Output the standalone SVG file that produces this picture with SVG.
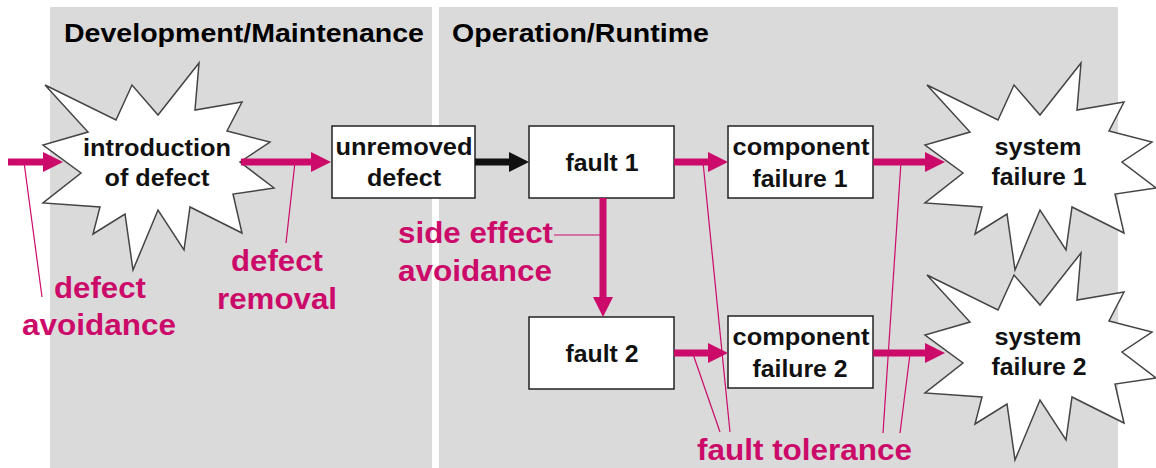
<svg xmlns="http://www.w3.org/2000/svg" xmlns:xlink="http://www.w3.org/1999/xlink" width="1156" height="468" viewBox="0 0 1156 468">
<style>
.panel{fill:#dadada}
.title{font-family:"Liberation Sans",Arial,sans-serif;font-weight:bold;font-size:26px;fill:#000}
.box{fill:#fff;stroke:#222;stroke-width:1.5}
.burst{fill:#fff;stroke:#444;stroke-width:1.5;stroke-linejoin:miter}
.nt{font-family:"Liberation Sans",Arial,sans-serif;font-weight:bold;font-size:23px;fill:#111;text-anchor:middle}
.ml{font-family:"Liberation Sans",Arial,sans-serif;font-weight:bold;font-size:30px;fill:#cc0a6a}
.mag{stroke:#cc0a6a;stroke-width:7;fill:none;marker-end:url(#hm)}
.blk{stroke:#111;stroke-width:7;fill:none;marker-end:url(#hb)}
.thin{stroke:#cc0a6a;stroke-width:1.2;fill:none}
</style>
<defs>
<marker id="hm" markerUnits="userSpaceOnUse" markerWidth="20" markerHeight="20" refX="2" refY="10" orient="auto"><path d="M0,0 L20,10 L0,20 z" fill="#cc0a6a"/></marker>
<marker id="hb" markerUnits="userSpaceOnUse" markerWidth="20" markerHeight="20" refX="2" refY="10" orient="auto"><path d="M0,0 L20,10 L0,20 z" fill="#111"/></marker>
<polygon id="burst" class="burst" points="45,85 116,120 132,85 158,115 199,63 195,110 242,102 227,131 270,142 240,162 274,188 233,194 242,233 190,207 184,250 158,210 133,270 125,214 93,234 100,207 43,203 81,173 43,145 88,132"/>
</defs>
<g id="panels">
<rect class="panel" x="50" y="7" width="382" height="461"/>
<rect class="panel" x="439" y="7" width="679" height="461"/>
<text class="title" x="64" y="42" textLength="360" lengthAdjust="spacingAndGlyphs">Development/Maintenance</text>
<text class="title" x="452" y="42" textLength="257" lengthAdjust="spacingAndGlyphs">Operation/Runtime</text>
</g>
<g id="intro">
<use xlink:href="#burst"/>
<text class="nt" x="157" y="156" textLength="148" lengthAdjust="spacingAndGlyphs">introduction</text>
<text class="nt" x="157" y="186" textLength="105" lengthAdjust="spacingAndGlyphs">of defect</text>
</g>
<g id="unremoved">
<rect class="box" x="332" y="126" width="143" height="72"/>
<text class="nt" x="404" y="155" textLength="137" lengthAdjust="spacingAndGlyphs">unremoved</text>
<text class="nt" x="404" y="186" textLength="74" lengthAdjust="spacingAndGlyphs">defect</text>
</g>
<g id="fault1">
<rect class="box" x="529" y="126" width="145" height="72"/>
<text class="nt" x="602" y="171" textLength="73" lengthAdjust="spacingAndGlyphs">fault 1</text>
</g>
<g id="fault2">
<rect class="box" x="529" y="317" width="145" height="72"/>
<text class="nt" x="602" y="362" textLength="73" lengthAdjust="spacingAndGlyphs">fault 2</text>
</g>
<g id="cf1">
<rect class="box" x="728" y="126" width="145" height="72"/>
<text class="nt" x="801" y="155" textLength="137" lengthAdjust="spacingAndGlyphs">component</text>
<text class="nt" x="800" y="187" textLength="95" lengthAdjust="spacingAndGlyphs">failure 1</text>
</g>
<g id="cf2">
<rect class="box" x="728" y="316" width="145" height="72"/>
<text class="nt" x="801" y="345" textLength="137" lengthAdjust="spacingAndGlyphs">component</text>
<text class="nt" x="800" y="377" textLength="95" lengthAdjust="spacingAndGlyphs">failure 2</text>
</g>
<g id="sf1">
<use xlink:href="#burst" transform="translate(882,0)"/>
<text class="nt" x="1038" y="155" textLength="87" lengthAdjust="spacingAndGlyphs">system</text>
<text class="nt" x="1039" y="185" textLength="95" lengthAdjust="spacingAndGlyphs">failure 1</text>
</g>
<g id="sf2">
<use xlink:href="#burst" transform="translate(882,190)"/>
<text class="nt" x="1038" y="345" textLength="87" lengthAdjust="spacingAndGlyphs">system</text>
<text class="nt" x="1039" y="375" textLength="95" lengthAdjust="spacingAndGlyphs">failure 2</text>
</g>
<g id="connectors">
<line class="mag" x1="8" y1="162" x2="45" y2="162"/>
<line class="mag" x1="241" y1="162" x2="313" y2="162"/>
<line class="blk" x1="475" y1="162" x2="511" y2="162"/>
<line class="mag" x1="674" y1="162" x2="710" y2="162"/>
<line class="mag" x1="873" y1="162" x2="927" y2="162"/>
<line class="mag" x1="603" y1="198" x2="603" y2="299"/>
<line class="mag" x1="674" y1="353" x2="710" y2="353"/>
<line class="mag" x1="873" y1="353" x2="927" y2="353"/>
</g>
<g id="annotations">
<line class="thin" x1="24" y1="162" x2="42" y2="297"/>
<line class="thin" x1="295" y1="162" x2="286" y2="243"/>
<line class="thin" x1="554" y1="235" x2="603" y2="235"/>
<line class="thin" x1="703" y1="162" x2="730" y2="432"/>
<line class="thin" x1="693" y1="354" x2="720" y2="432"/>
<line class="thin" x1="901" y1="162" x2="883" y2="433"/>
<line class="thin" x1="910" y1="354" x2="900" y2="433"/>
<text class="ml" x="100" y="298" text-anchor="middle" textLength="92" lengthAdjust="spacingAndGlyphs">defect</text>
<text class="ml" x="99" y="335" text-anchor="middle" textLength="154" lengthAdjust="spacingAndGlyphs">avoidance</text>
<text class="ml" x="277" y="271" text-anchor="middle" textLength="92" lengthAdjust="spacingAndGlyphs">defect</text>
<text class="ml" x="277" y="309" text-anchor="middle" textLength="120" lengthAdjust="spacingAndGlyphs">removal</text>
<text class="ml" x="398" y="243" textLength="155" lengthAdjust="spacingAndGlyphs">side effect</text>
<text class="ml" x="398" y="281" textLength="154" lengthAdjust="spacingAndGlyphs">avoidance</text>
<text class="ml" x="697" y="460" textLength="215" lengthAdjust="spacingAndGlyphs">fault tolerance</text>
</g>
</svg>
